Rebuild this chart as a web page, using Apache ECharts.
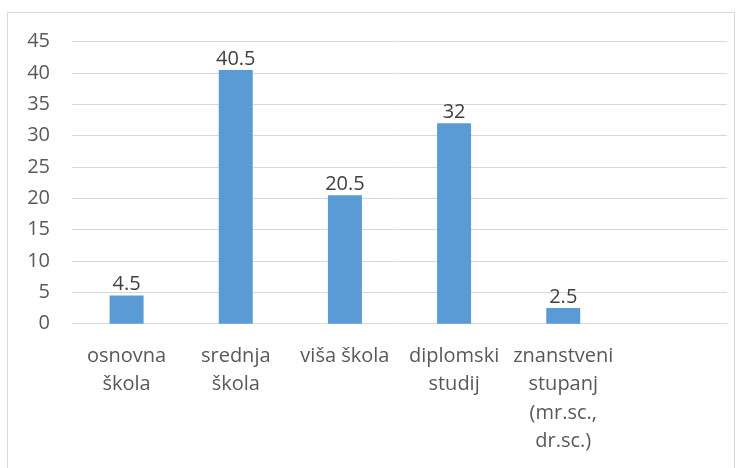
<!DOCTYPE html>
<html><head><meta charset="utf-8">
<script src="https://cdn.jsdelivr.net/npm/echarts@6/dist/echarts.min.js"></script>
<style>html,body{margin:0;padding:0;background:#fff}#c{width:744px;height:468px}</style>
</head><body><div id="c"></div>
<script>
const categories = ["osnovna\nškola", "srednja\nškola", "viša škola", "diplomski\nstudij", "znanstveni\nstupanj\n(mr.sc.,\ndr.sc.)", ""];
const values = [4.5, 40.5, 20.5, 32, 2.5, null];
const yTicks = [0, 5, 10, 15, 20, 25, 30, 35, 40, 45];

const chart = echarts.init(document.getElementById('c'), null, {renderer: 'canvas'});
const FONT = '"Open Sans", "Liberation Sans", sans-serif';
chart.setOption({
  animation: false,
  backgroundColor: '#fff',
  graphic: [{
    type: 'rect', shape: {x: 7.5, y: 12.5, width: 727, height: 470},
    style: {fill: 'none', stroke: '#d9d9d9', lineWidth: 1}, silent: true, z: -1
  }],
  grid: {left: 72, right: 17, top: 41.7, bottom: 144.3, containLabel: false},
  xAxis: {
    type: 'category', data: categories,
    axisLine: {show: true, lineStyle: {color: '#d9d9d9', width: 1}},
    axisTick: {show: false},
    axisLabel: {interval: 0, color: '#595959', fontFamily: FONT, fontSize: 20, lineHeight: 28.5, margin: 18}
  },
  yAxis: {
    type: 'value', min: yTicks[0], max: yTicks[yTicks.length - 1], interval: 5,
    axisLine: {show: false}, axisTick: {show: false},
    splitLine: {lineStyle: {color: '#d9d9d9', width: 1}},
    axisLabel: {color: '#595959', fontFamily: FONT, fontSize: 20, margin: 22}
  },
  series: [{
    type: 'bar', data: values, barWidth: 34,
    itemStyle: {color: '#5b9bd5'},
    label: {show: true, position: 'top', distance: 1, color: '#404040', fontFamily: FONT, fontSize: 20}
  }]
});
</script></body></html>
